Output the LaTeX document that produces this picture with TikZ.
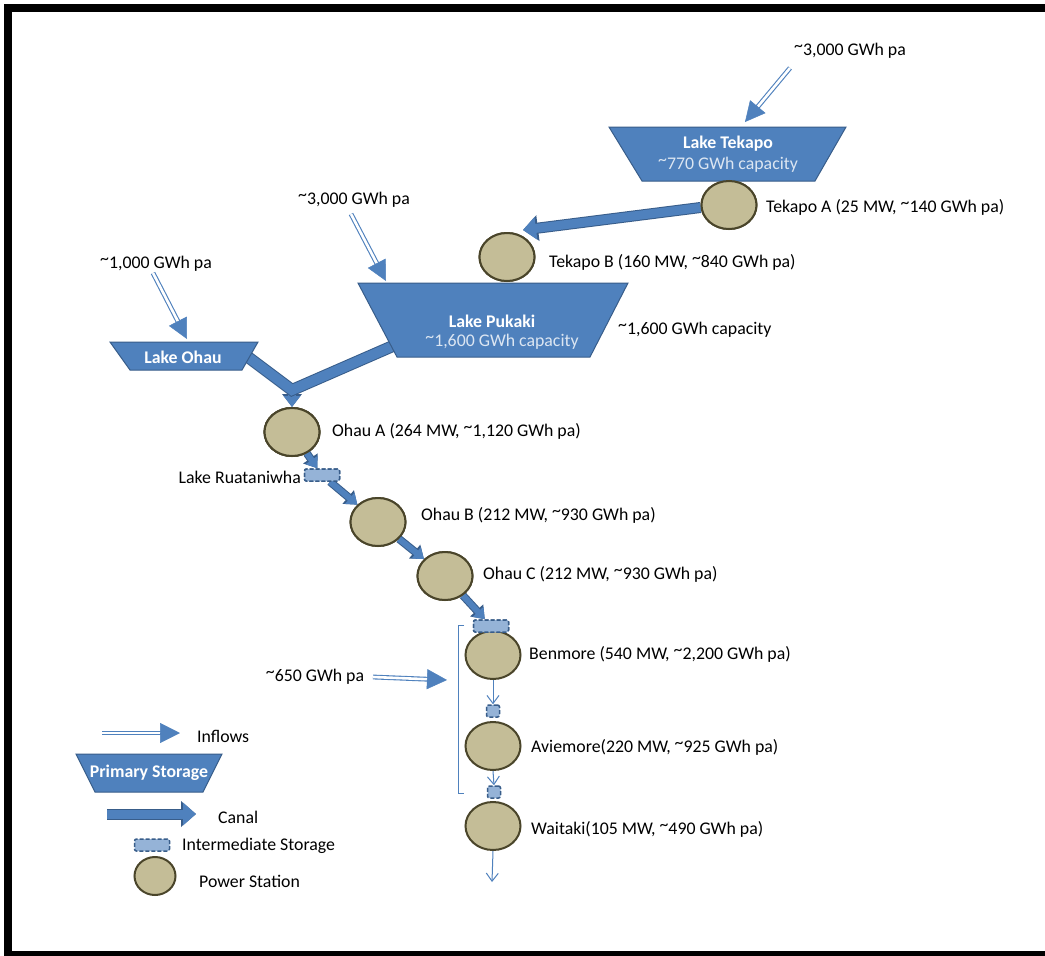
\documentclass[tikz,border=0pt]{standalone}
\usepackage{fontspec}
\setmainfont{Carlito}
\usetikzlibrary{arrows.meta,calc,shapes.geometric}
\definecolor{lakefill}{HTML}{4F81BD}
\definecolor{lakeline}{HTML}{385D8A}
\definecolor{stfill}{HTML}{C4BD97}
\definecolor{stline}{HTML}{4A452A}
\definecolor{imfill}{HTML}{95B3D7}
\definecolor{captext}{HTML}{DCE6F2}
\newcommand\tld{\raisebox{0.22em}{\textasciitilde}}
\newcommand\inflowarrow[2]{%
  \draw[inflowshaft, shorten >=16pt] (#1) -- (#2);
  \draw[inflowhead] ($(#2)!20pt!(#1)$) -- (#2);}
\begin{document}
\begin{tikzpicture}[x=1pt,y=-1pt,
  font=\fontsize{17.8}{21}\selectfont,
  station/.style={ellipse, draw=stline, line width=2pt, fill=stfill,
    minimum width=55pt, minimum height=48pt, inner sep=0pt},
  lbl/.style={anchor=west, inner sep=0pt, text=black},
  lake/.style={fill=lakefill, draw=lakeline, line width=1pt},
  laketext/.style={inner sep=0pt, text=white, font=\fontsize{17.8}{21}\selectfont\bfseries},
  captxt/.style={inner sep=0pt, text=captext},
  imstore/.style={draw=lakeline, dash pattern=on 4pt off 2pt, line width=1.5pt,
    fill=imfill, rounded corners=2pt, minimum width=35pt, minimum height=12pt, inner sep=0pt},
  smallstore/.style={imstore, minimum width=13pt, minimum height=12pt},
  bigcanal/.style={draw=lakefill, line width=9pt, -{Triangle[width=22pt,length=13pt]},
    preaction={draw=lakeline, line width=11pt, -{Triangle[width=25pt,length=15pt]}}},
  plaincanal/.style={draw=lakefill, line width=10pt, line join=miter,
    preaction={draw=lakeline, line width=12pt, line join=miter}},
  downcanal/.style={draw=lakefill, line width=8pt, -{Triangle[width=16pt,length=11pt]},
    preaction={draw=lakeline, line width=10pt, -{Triangle[width=19pt,length=13pt]}}},
  smallcanal/.style={draw=lakefill, line width=6pt, -{Triangle[width=14pt,length=10pt]},
    preaction={draw=lakeline, line width=8pt, -{Triangle[width=17pt,length=12pt]}}},
  thinarrow/.style={draw=lakefill, line width=1pt, -{Straight Barb[length=8pt,width=12pt]}},
  inflowshaft/.style={draw=lakefill, line width=1.1pt, double=white, double distance=2.6pt},
  inflowhead/.style={draw=lakefill, line width=0.5pt, -{Triangle[length=20pt,width=20pt]}},
  bracketline/.style={draw=lakefill, line width=1pt}
]
\useasboundingbox (0,0) rectangle (1045,956);
\fill[white] (0,0) rectangle (1045,956);
% frame
\draw[line width=8pt] (1070,8) -- (8,8) -- (8,955) -- (1070,955);

% coordinates
\coordinate (tekIn) at (790,68);
\coordinate (tekTop) at (745,122);
\coordinate (pukIn) at (351,214);
\coordinate (pukTop) at (386,281);
\coordinate (ohIn) at (153,273);
\coordinate (ohTop) at (187,339);
\coordinate (benIn) at (373,677);
\coordinate (benTip) at (447,680);
\coordinate (legIn) at (102,733);
\coordinate (legTip) at (180,733);
\coordinate (tekBin) at (523,230);
\coordinate (ohauOut) at (248,357);
\coordinate (pukOut) at (402,342);
\coordinate (junc) at (292,390);
\coordinate (legCa) at (107,814);
\coordinate (legCb) at (196,814);
\coordinate (wout) at (492,882);

% stations (positions only; drawn again on top)
\node[station] (tekA) at (729,205) {};
\node[station] (tekB) at (507,257) {};
\node[station] (ohauA) at (292,432) {};
\node[station] (ohauB) at (378,522) {};
\node[station] (ohauC) at (445,576) {};
\node[station] (benmore) at (493,655) {};
\node[station] (aviemore) at (493,746) {};
\node[station] (waitaki) at (493,826) {};
\node[station, minimum width=41pt, minimum height=38pt] (legPS) at (155,876) {};

% canals
\draw[bigcanal] (tekA.185) -- (tekBin);
\draw[downcanal] (junc) -- (ohauA.north);
\draw[plaincanal] (ohauOut) -- (junc) -- (pukOut);

% lakes
\fill[lake] (609,127) -- (846,127) -- (815,181) -- (642,181) -- cycle;
\node[laketext] (tekName) at (728,144) {Lake Tekapo};
\node[captxt] (tekCap) at (728,165) {\tld770 GWh capacity};

\fill[lake] (358,283) -- (628,283) -- (590,357) -- (397,357) -- cycle;
\node[laketext] (pukName) at (492,321) {Lake Pukaki};
\node[captxt] (pukCap) at (502,342) {\tld1,600 GWh capacity};

\fill[lake] (110,342) -- (258,342) -- (242,370) -- (130,370) -- cycle;
\node[laketext] (ohName) at (183,357) {Lake Ohau};

% redraw stations on top
\node[station] at (tekA) {};
\node[station] at (tekB) {};
\node[station] at (ohauA) {};

% intermediate storages
\node[imstore] (rua) at (322,475) {};
\node[imstore] (bst) at (491,626) {};
\node[smallstore] (s1) at (493,711) {};
\node[smallstore] (s2) at (494,792) {};

% small canals down the chain
\draw[smallcanal] (ohauA) -- (rua);
\draw[smallcanal] (rua) -- (ohauB);
\draw[smallcanal] (ohauB) -- (ohauC);
\draw[smallcanal] (ohauC) -- (bst);
\node[station] at (ohauA) {};
\node[station] at (ohauB) {};
\node[station] at (ohauC) {};
\node[imstore] at (rua) {};
\node[imstore] at (bst) {};

% thin arrows
\draw[thinarrow] (benmore.south) -- (s1.north);
\draw[thinarrow] (aviemore.south) -- (s2.north);
\draw[thinarrow] (waitaki.south) -- (wout);

% bracket
\draw[bracketline] (464,625) -- (458,625) -- (458,793) -- (464,793);

% inflows
\inflowarrow{tekIn}{tekTop}
\inflowarrow{pukIn}{pukTop}
\inflowarrow{ohIn}{ohTop}
\inflowarrow{benIn}{benTip}

% labels
\node[inner sep=0pt] (tekInL) at (850,51) {\tld3,000 GWh pa};
\node[inner sep=0pt] (pukInL) at (354,200) {\tld3,000 GWh pa};
\node[inner sep=0pt] (ohInL) at (156,264) {\tld1,000 GWh pa};
\node[inner sep=0pt] (benInL) at (315,677) {\tld650 GWh pa};
\node[lbl] (tekAL) at (766,207) {Tekapo A (25 MW, \tld140 GWh pa)};
\node[lbl] (tekBL) at (549,262) {Tekapo B (160 MW, \tld840 GWh pa)};
\node[lbl] (pukCapL) at (618,330) {\tld1,600 GWh capacity};
\node[lbl] (ohauAL) at (332,431) {Ohau A (264 MW, \tld1,120 GWh pa)};
\node[anchor=east, inner sep=0pt] (ruaL) at (301,477) {Lake Ruataniwha};
\node[lbl] (ohauBL) at (421,515) {Ohau B (212 MW, \tld930 GWh pa)};
\node[lbl] (ohauCL) at (483,574) {Ohau C (212 MW, \tld930 GWh pa)};
\node[lbl] (benL) at (529,654) {Benmore (540 MW, \tld2,200 GWh pa)};
\node[lbl] (aviL) at (531,747) {Aviemore(220 MW, \tld925 GWh pa)};
\node[lbl] (waiL) at (531,829) {Waitaki(105 MW, \tld490 GWh pa)};

% legend
\inflowarrow{legIn}{legTip}
\node[lbl] (legInL) at (197,736) {Inflows};
\fill[lake] (76,754) -- (222,754) -- (203,792) -- (95,792) -- cycle;
\node[laketext] (legPSt) at (149,773) {Primary Storage};
\draw[bigcanal] (legCa) -- (legCb);
\node[lbl] (legCaL) at (218,817) {Canal};
\node[imstore] (legIS) at (152,845) {};
\node[lbl] (legISL) at (182,846) {Intermediate Storage};
\node[lbl] (legPSL) at (199,881) {Power Station};
\end{tikzpicture}
\end{document}
